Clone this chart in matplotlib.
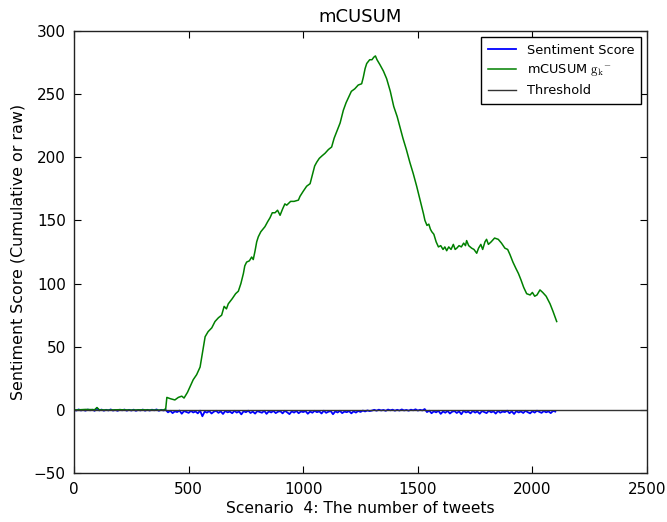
import matplotlib
matplotlib.use("Agg")
import matplotlib.pyplot as plt

# ---- data ----
cusum_x = [0, 50, 90, 100, 110, 150, 200, 250, 300, 350, 390, 400,
           405, 420, 440, 455, 470, 480, 495, 510, 520, 535, 550, 560, 572, 585,
           601, 615, 630, 644, 655, 665, 673, 690, 705, 717, 728, 739, 745, 753,
           765, 775, 782, 790, 797, 804, 815, 833, 845, 855, 865, 877, 888, 899,
           910, 920, 928, 945, 960, 979, 986, 1000, 1015, 1030, 1040, 1050, 1059,
           1070, 1082, 1095, 1110, 1124, 1135, 1150, 1161, 1175, 1187, 1197, 1210,
           1225, 1240, 1255, 1262, 1270, 1277, 1290, 1300, 1308, 1315, 1322, 1335,
           1350, 1364, 1380, 1395, 1410, 1422, 1435, 1450, 1465, 1480, 1495, 1510,
           1525, 1531, 1540, 1548, 1555, 1561, 1570, 1580, 1590, 1600, 1610, 1618,
           1626, 1635, 1645, 1655, 1663, 1670, 1680, 1690, 1700, 1708, 1713, 1722,
           1735, 1745, 1757, 1765, 1775, 1783, 1793, 1800, 1808, 1820, 1835, 1851,
           1865, 1880, 1892, 1902, 1915, 1928, 1939, 1950, 1962, 1975, 1990, 2000,
           2010, 2020, 2033, 2045, 2060, 2077, 2090, 2100, 2106]
cusum_y = [0, 0.5, 0.3, 2, 0.2, 0, 0.3, 0, 0.2, 0, 0, 1,
           10, 9, 8, 10, 11, 9.5, 14, 20, 24, 28, 34, 45, 58, 62,
           65, 70, 73, 75, 82, 80, 84, 88, 92, 94, 100, 108, 114, 117,
           118, 121, 119, 126, 133, 137, 141, 145, 149, 152, 156, 156, 158, 154,
           159, 163, 162, 165, 165, 166, 169, 173, 177, 179, 186, 193, 196,
           199, 201, 203, 206, 208, 215, 222, 227, 237, 243, 247, 252,
           254, 257, 258, 263, 270, 274, 277, 277, 279, 280, 277, 273,
           268, 262, 252, 240, 232, 224, 215, 206, 196, 187, 177, 166,
           155, 150, 146, 147, 143, 141, 139, 133, 129, 130, 127, 129,
           126, 129, 127, 131, 127, 128, 130, 129, 132, 130, 134, 130,
           128, 127, 124, 128, 131, 127, 133, 135, 131, 133, 136, 135,
           132, 128, 127, 123, 117, 112, 108, 103, 97, 92, 91, 93,
           90, 91, 95, 93, 90, 84, 78, 73, 70]

sent_x = list(range(0, 2110, 10))
sent_y = [
    # 0 .. 400
    0.2, -0.4, 0.5, -0.3, 0.1, -0.5, 0.4, -0.2, 0.3, -0.6,
    1.5, -0.3, 0.4, -0.5, 0.2, -0.3, 0.5, -0.4, 0.1, -0.6,
    0.3, -0.2, 0.4, -0.5, 0.2, -0.4, 0.3, -0.6, 0.1, -0.3,
    0.4, -0.5, 0.2, -0.4, 0.3, -0.2, 0.5, -0.6, 0.2, -0.3,
    0.1,
    # 410 .. 1290
    -1.8, -0.6, -2.4, -1.0, -1.6, -0.4, -2.9, -0.8, -1.5, -2.2,
    -0.7, -1.9, -1.1, -2.6, -0.5, -4.9, -1.2, -2.0, -0.8, -2.7,
    -1.3, -0.6, -2.2, -1.0, -3.1, -0.7, -1.8, -1.2, -2.5, -0.6,
    -2.0, -1.1, -3.4, -0.9, -1.7, -0.5, -2.3, -1.2, -2.8, -0.8,
    -1.5, -2.1, -0.6, -3.0, -1.0, -1.9, -0.7, -2.4, -1.3, -0.9,
    -2.6, -0.6, -1.8, -3.2, -1.0, -2.0, -0.7, -2.5, -1.1, -1.6,
    -0.8, -2.9, -1.2, -2.1, -0.6, -1.7, -1.0, -2.7, -0.5, -2.2,
    -1.3, -0.8, -3.3, -1.0, -1.9, -0.6, -2.4, -1.2, -1.7, -0.8,
    -2.6, -1.0, -2.0, -0.7, -1.5, -0.4, -1.1, -0.3, -0.8,
    # 1300 .. 1530
    -0.4, 0.2, -0.5, 0.3, -0.3, 0.1, -0.6, 0.4, -0.2, 0.3,
    -0.5, 0.2, -0.4, 0.5, -0.3, 0.1, -0.5, 0.3, -0.2, 0.6,
    -0.4, 0.2, -0.3, 0.8,
    # 1540 .. 2100
    -1.6, -0.5, -2.5, -1.0, -1.8, -0.6, -3.0, -1.1, -2.1, -0.7,
    -2.7, -1.3, -0.8, -2.3, -1.0, -3.3, -0.6, -1.9, -1.2, -2.6,
    -0.7, -2.0, -1.1, -2.9, -0.8, -1.6, -2.4, -0.6, -1.8, -1.0,
    -2.8, -0.7, -2.1, -1.2, -1.6, -0.5, -2.5, -1.0, -3.1, -0.8,
    -1.9, -1.1, -2.3, -0.6, -1.7, -2.6, -0.9, -2.0, -0.5, -1.4,
    -2.2, -0.8, -1.8, -1.0, -2.4, -0.7, -1.2]
threshold = 0

x_ticks = [0, 500, 1000, 1500, 2000, 2500]
y_ticks = [-50, 0, 50, 100, 150, 200, 250, 300]

plt.rcParams['mathtext.fontset'] = 'cm'
plt.rcParams['font.family'] = ['DejaVu Sans']

fig = plt.figure(figsize=(6.67, 5.22), dpi=100)
ax = fig.add_axes([0.111, 0.0933, 0.859, 0.848])

ax.plot(sent_x, sent_y, color='#0000ff', lw=1.3, label='Sentiment Score')
ax.plot(cusum_x, cusum_y, color='#008000', lw=1.1,
        label=r'mCUSUM $\mathrm{g_k}^{-}$')
ax.axhline(threshold, color='#333333', lw=1.0, label='Threshold')

ax.set_xlim(0, 2500)
ax.set_ylim(-50, 300)
ax.set_xticks(x_ticks)
ax.set_yticks(y_ticks)
ax.tick_params(direction='in', top=True, right=True, labelsize=11,
               length=5, width=0.8, pad=6)
for s in ax.spines.values():
    s.set_linewidth(1.0)
    s.set_color('#222222')

ax.set_title('mCUSUM', fontsize=13, pad=6)
ax.set_xlabel('Scenario  4: The number of tweets', fontsize=11.2, labelpad=3)
ax.set_ylabel('Sentiment Score (Cumulative or raw)', fontsize=11.4, labelpad=6)

leg = ax.legend(loc='upper right', fontsize=9.3, fancybox=False, framealpha=1,
                edgecolor='black', handlelength=2.2, borderpad=0.5,
                labelspacing=0.45, borderaxespad=0.5)
leg.get_frame().set_linewidth(1.0)

fig.savefig('out.png', dpi=100)
